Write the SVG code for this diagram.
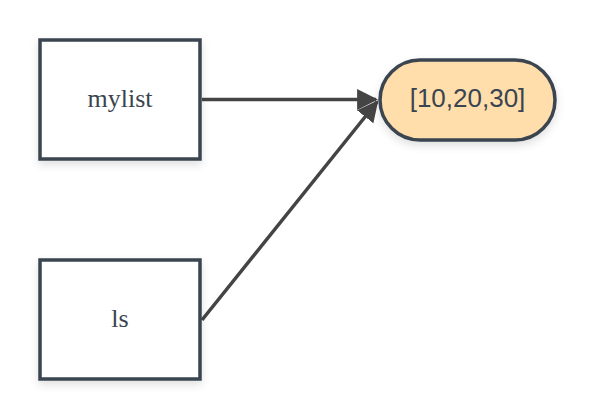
<svg xmlns="http://www.w3.org/2000/svg" width="595" height="420" viewBox="0 0 595 420">
<style>
.box{fill:#ffffff;stroke:#3a4450;stroke-width:3.5;filter:url(#sh)}
.pill{fill:#ffdeab;stroke:#3a4450;stroke-width:3.5;filter:url(#sh)}
.lbl{font-family:"Liberation Serif",serif;font-size:26px;fill:#3a4450;text-anchor:middle;dominant-baseline:central}
.lbl2{font-family:"Liberation Sans",sans-serif;font-size:26px;fill:#3a4450;text-anchor:middle;dominant-baseline:central}
.edge{fill:none;stroke:#444444;stroke-width:3.5;marker-end:url(#arr)}
</style>
<defs>
<filter id="sh" x="-20%" y="-20%" width="140%" height="150%">
<feDropShadow dx="0" dy="4" stdDeviation="4" flood-color="#000" flood-opacity="0.12"/>
</filter>
<marker id="arr" viewBox="0 0 10 10" refX="9" refY="5" markerWidth="6" markerHeight="6" markerUnits="strokeWidth" orient="auto">
<path d="M0,0 L10,5 L0,10 z" fill="#444444"/>
</marker>
</defs>
<rect width="595" height="420" fill="#ffffff"/>
<g id="connectors">
<line class="edge" x1="202" y1="99.5" x2="376" y2="99.5"/>
<line class="edge" x1="202" y1="320" x2="377" y2="102"/>
</g>
<g id="mylist">
<rect class="box" x="40" y="40" width="160" height="119"/>
<text class="lbl" x="120" y="98">mylist</text>
</g>
<g id="ls">
<rect class="box" x="40" y="260" width="160" height="119"/>
<text class="lbl" x="120" y="318">ls</text>
</g>
<g id="list">
<rect class="pill" x="380" y="60" width="175" height="80" rx="40" ry="40"/>
<text class="lbl2" x="467.5" y="98">[10,20,30]</text>
</g>
</svg>
